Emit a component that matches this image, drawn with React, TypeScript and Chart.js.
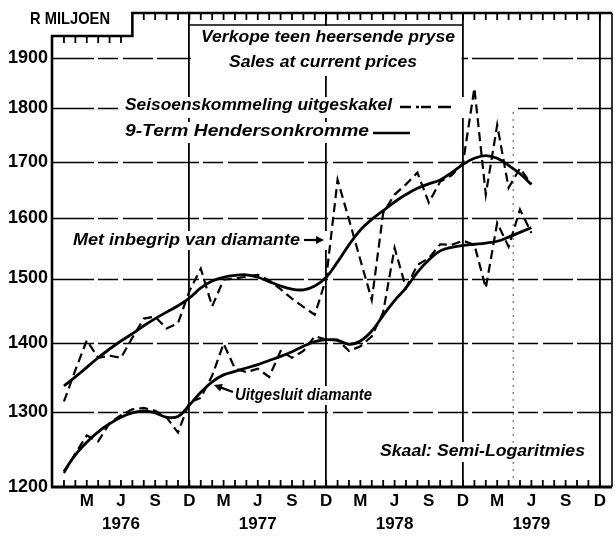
import React, { useEffect, useRef } from 'react';
import { Chart, registerables } from 'chart.js';

Chart.register(...registerables);

// Month index: 0 = Jan 1976 ... 41 = Jun 1979
const monthIndex: number[] = [
  0, 1, 2, 3, 4, 5, 6, 7, 8, 9, 10, 11,
  12, 13, 14, 15, 16, 17, 18, 19, 20, 21, 22, 23,
  24, 25, 26, 27, 28, 29, 30, 31, 32, 33, 34, 35,
  36, 37, 38, 39, 40, 41,
];

// Met inbegrip van diamante – seisoenskommeling uitgeskakel (R miljoen)
const withDiamondsAdjusted: number[] = [
  1315, 1360, 1404, 1378, 1381, 1378, 1408, 1437, 1440, 1422, 1430, 1480,
  1516, 1456, 1498, 1500, 1503, 1506, 1497, 1483, 1468, 1455, 1443, 1500,
  1667, 1598, 1530, 1466, 1609, 1641, 1659, 1680, 1627, 1664, 1675, 1697,
  1839, 1641, 1768, 1653, 1688, 1659,
];

// Met inbegrip van diamante – 9-term Hendersonkromme
const withDiamondsTrend: number[] = [
  1337, 1350, 1364, 1378, 1391, 1403, 1414, 1426, 1437, 1447, 1457, 1469,
  1485, 1496, 1502, 1505, 1506, 1502, 1495, 1488, 1483, 1482, 1488, 1502,
  1527, 1555, 1580, 1598, 1613, 1628, 1641, 1652, 1660, 1667, 1680, 1695,
  1706, 1711, 1706, 1693, 1678, 1659,
];

// Uitgesluit diamante – seisoenskommeling uitgeskakel
const exclDiamondsAdjusted: number[] = [
  1218, 1244, 1268, 1260, 1285, 1296, 1304, 1306, 1302, 1293, 1272, 1314,
  1320, 1352, 1399, 1362, 1357, 1362, 1350, 1388, 1378, 1388, 1410, 1405,
  1405, 1388, 1395, 1410, 1447, 1550, 1485, 1522, 1533, 1556, 1555, 1562,
  1555, 1485, 1592, 1552, 1615, 1575,
];

// Uitgesluit diamante – 9-term Hendersonkromme
const exclDiamondsTrend: number[] = [
  1220, 1242, 1259, 1273, 1284, 1293, 1299, 1302, 1299, 1293, 1294, 1310,
  1328, 1343, 1353, 1358, 1363, 1368, 1374, 1380, 1387, 1395, 1402, 1405,
  1404, 1398, 1403, 1418, 1442, 1465, 1485, 1510, 1530, 1545, 1551, 1554,
  1556, 1558, 1561, 1568, 1576, 1584,
];

const yTickValues: number[] = [1200, 1300, 1400, 1500, 1600, 1700, 1800, 1900];
const axisMonths: number[] = [
  0, 1, 2, 3, 4, 5, 6, 7, 8, 9, 10, 11,
  12, 13, 14, 15, 16, 17, 18, 19, 20, 21, 22, 23,
  24, 25, 26, 27, 28, 29, 30, 31, 32, 33, 34, 35,
  36, 37, 38, 39, 40, 41, 42, 43, 44, 45, 46, 47,
];
const quarterLetters: string[] = ['', '', 'M', '', '', 'J', '', '', 'S', '', '', 'D'];
const yearLabels: string[] = ['1976', '1977', '1978', '1979'];

const FONT = '"Liberation Sans", Arial, "DejaVu Sans", sans-serif';

function fitText(
  ctx: CanvasRenderingContext2D,
  text: string,
  x0: number,
  x1: number,
  cy: number,
  size: number,
  italic = false,
) {
  ctx.save();
  ctx.font = `${italic ? 'italic ' : ''}bold ${size}px ${FONT}`;
  const w = ctx.measureText(text).width;
  ctx.translate(x0, cy);
  ctx.scale((x1 - x0) / w, 1);
  ctx.textBaseline = 'middle';
  ctx.textAlign = 'left';
  ctx.fillStyle = '#000';
  ctx.fillText(text, 0, 0);
  ctx.restore();
}

function arrow(ctx: CanvasRenderingContext2D, x0: number, y0: number, x1: number, y1: number) {
  const ang = Math.atan2(y1 - y0, x1 - x0);
  ctx.save();
  ctx.strokeStyle = '#000';
  ctx.fillStyle = '#000';
  ctx.lineWidth = 2.2;
  ctx.beginPath();
  ctx.moveTo(x0, y0);
  ctx.lineTo(x1 - 4 * Math.cos(ang), y1 - 4 * Math.sin(ang));
  ctx.stroke();
  ctx.beginPath();
  ctx.moveTo(x1, y1);
  ctx.lineTo(x1 - 8 * Math.cos(ang) + 4 * Math.sin(ang), y1 - 8 * Math.sin(ang) - 4 * Math.cos(ang));
  ctx.lineTo(x1 - 8 * Math.cos(ang) - 4 * Math.sin(ang), y1 - 8 * Math.sin(ang) + 4 * Math.cos(ang));
  ctx.closePath();
  ctx.fill();
  ctx.restore();
}

const decorPlugin = {
  id: 'decor',
  beforeDatasetsDraw(chart: any) {
    const { ctx, chartArea: a, scales } = chart;
    const xs = scales.x;
    const ys = scales.y;
    const ctx2 = ctx as CanvasRenderingContext2D;
    ctx2.save();

    // horizontal grid lines (broken, as in the print)
    ctx2.strokeStyle = '#000';
    ctx2.lineWidth = 1.6;
    ctx2.setLineDash([42, 4, 20, 5, 30, 4]);
    ctx2.beginPath();
    yTickValues.forEach((v) => {
      if (v === 1200) return;
      const py = Math.round(ys.getPixelForValue(v)) + 0.5;
      ctx2.moveTo(a.left, py);
      ctx2.lineTo(a.right, py);
    });
    ctx2.stroke();
    ctx2.setLineDash([]);

    // white backgrounds behind the captions (interrupt the grid)
    ctx2.fillStyle = '#fff';
    const stepX = xs.getPixelForValue(6);
    const dec76 = xs.getPixelForValue(11);
    const dec78 = xs.getPixelForValue(35);
    ctx2.fillRect(dec76 + 1.5, 26, dec78 - dec76 - 3, 50);
    ctx2.fillRect(118, 97, 396, 21);
    ctx2.fillRect(118, 122, 296, 21);
    ctx2.fillRect(70, 231, 258, 19);
    ctx2.fillRect(230, 386, 146, 19);
    ctx2.fillRect(376, 442, 212, 20);

    // faint dotted vertical
    ctx2.strokeStyle = '#555';
    ctx2.lineWidth = 1;
    ctx2.setLineDash([2, 5]);
    const dx = xs.getPixelForValue(39.4);
    ctx2.beginPath();
    ctx2.moveTo(dx, 112);
    ctx2.lineTo(dx, a.bottom - 6);
    ctx2.stroke();
    ctx2.setLineDash([]);

    // title box top line
    ctx2.strokeStyle = '#000';
    ctx2.lineWidth = 1.6;
    ctx2.beginPath();
    ctx2.moveTo(dec76, 25);
    ctx2.lineTo(dec78, 25);
    ctx2.stroke();

    // frame
    const lowTop = a.top + 23;
    ctx2.lineWidth = 2.6;
    ctx2.beginPath();
    ctx2.moveTo(a.left, a.bottom);
    ctx2.lineTo(a.left, lowTop);
    ctx2.lineTo(stepX, lowTop);
    ctx2.lineTo(stepX, a.top);
    ctx2.lineTo(a.right, a.top);
    ctx2.stroke();
    ctx2.lineWidth = 1.6;
    ctx2.beginPath();
    ctx2.moveTo(a.right, a.top);
    ctx2.lineTo(a.right, a.bottom);
    ctx2.stroke();
    ctx2.lineWidth = 2.8;
    ctx2.beginPath();
    ctx2.moveTo(a.left - 1, a.bottom);
    ctx2.lineTo(a.right, a.bottom);
    ctx2.stroke();

    // inward month ticks along bottom and top
    ctx2.lineWidth = 1.8;
    ctx2.beginPath();
    axisMonths.forEach((m) => {
      const px = xs.getPixelForValue(m);
      ctx2.moveTo(px, a.bottom);
      ctx2.lineTo(px, a.bottom - 7);
      if (m < 6) {
        ctx2.moveTo(px, lowTop);
        ctx2.lineTo(px, lowTop + 7);
      } else if (m > 6) {
        ctx2.moveTo(px, a.top);
        ctx2.lineTo(px, a.top + 7);
      }
    });
    ctx2.stroke();
    ctx2.restore();
  },
  afterDatasetsDraw(chart: any) {
    const ctx = chart.ctx as CanvasRenderingContext2D;
    ctx.save();
    fitText(ctx, 'R MILJOEN', 30, 110, 19, 17);
    fitText(ctx, 'Verkope teen heersende pryse', 201, 455, 38, 16, true);
    fitText(ctx, 'Sales at current prices', 229, 417, 63, 16, true);
    fitText(ctx, 'Seisoenskommeling uitgeskakel', 125, 392, 106, 16, true);
    fitText(ctx, '9-Term Hendersonkromme', 125, 369, 132, 16, true);
    fitText(ctx, 'Met inbegrip van diamante', 73, 300, 241, 16, true);
    fitText(ctx, 'Uitgesluit diamante', 235, 372, 396, 16, true);
    fitText(ctx, 'Skaal: Semi-Logaritmies', 380, 585, 452, 16, true);

    // legend samples
    ctx.strokeStyle = '#000';
    ctx.lineWidth = 2.4;
    ctx.beginPath();
    ctx.moveTo(400, 107); ctx.lineTo(411, 107);
    ctx.moveTo(416, 107); ctx.lineTo(419, 107);
    ctx.moveTo(421, 107); ctx.lineTo(431, 107);
    ctx.moveTo(438, 107); ctx.lineTo(451, 107);
    ctx.moveTo(373, 133); ctx.lineTo(410, 133);
    ctx.stroke();

    arrow(ctx, 304, 240, 324, 240);
    arrow(ctx, 233, 392, 214, 385);
    ctx.restore();
  },
};

export default function App() {
  const canvasRef = useRef<HTMLCanvasElement | null>(null);

  useEffect(() => {
    if (!canvasRef.current) return;
    const pts = (vals: number[]) => vals.map((v, i) => ({ x: monthIndex[i], y: v }));
    const dashed = {
      borderColor: '#000',
      borderWidth: 2.2,
      borderDash: [9, 5],
      pointRadius: 0,
      tension: 0,
      fill: false,
    };
    const solid = {
      borderColor: '#000',
      borderWidth: 2.8,
      pointRadius: 0,
      tension: 0.4,
      fill: false,
    };
    const chart = new Chart(canvasRef.current, {
      type: 'line',
      data: {
        datasets: [
          { label: 'Met inbegrip van diamante – seisoenskommeling uitgeskakel', data: pts(withDiamondsAdjusted), ...dashed },
          { label: 'Met inbegrip van diamante – 9-Term Hendersonkromme', data: pts(withDiamondsTrend), ...solid },
          { label: 'Uitgesluit diamante – seisoenskommeling uitgeskakel', data: pts(exclDiamondsAdjusted), ...dashed },
          { label: 'Uitgesluit diamante – 9-Term Hendersonkromme', data: pts(exclDiamondsTrend), ...solid },
        ],
      },
      options: {
        animation: false,
        responsive: false,
        devicePixelRatio: 1,
        layout: { padding: { top: 13, right: 3, left: 0, bottom: 0 } },
        plugins: { legend: { display: false }, tooltip: { enabled: false } },
        scales: {
          x: {
            type: 'linear',
            min: -1.05,
            max: 48.07,
            afterBuildTicks: (scale: any) => {
              scale.ticks = axisMonths.map((m) => ({ value: m }));
            },
            afterFit: (scale: any) => {
              scale.height = 53;
              scale.paddingLeft = 0;
              scale.paddingRight = 0;
            },
            grid: {
              drawTicks: false,
              lineWidth: 1.8,
              color: (c: any) => (c.tick && c.tick.value % 12 === 11 ? '#000' : 'rgba(0,0,0,0)'),
            },
            border: { display: false },
            ticks: {
              autoSkip: false,
              maxRotation: 0,
              minRotation: 0,
              padding: 3,
              color: '#000',
              font: { family: FONT, size: 17, weight: 'bold', lineHeight: 1.35 },
              callback: (value: any) => {
                const m = Number(value);
                const q = m % 12;
                if (q === 5) return [quarterLetters[q], yearLabels[Math.floor(m / 12)]];
                return quarterLetters[q];
              },
            },
          },
          y: {
            type: 'logarithmic',
            min: 1200,
            max: 1993,
            afterBuildTicks: (scale: any) => {
              scale.ticks = yTickValues.map((v) => ({ value: v }));
            },
            afterFit: (scale: any) => {
              scale.width = 52;
              scale.paddingTop = 0;
              scale.paddingBottom = 0;
            },
            grid: { display: false, drawTicks: false },
            border: { display: false },
            ticks: {
              padding: 4,
              color: '#000',
              font: { family: FONT, size: 18, weight: 'bold' },
              callback: (value: any) => String(value),
            },
          },
        },
      },
      plugins: [decorPlugin],
    } as any);
    return () => chart.destroy();
  }, []);

  return (
    <div style={{ position: 'fixed', left: 0, top: 0, width: 615, height: 540, background: '#fff' }}>
      <canvas ref={canvasRef} width={615} height={540} style={{ display: 'block' }} />
    </div>
  );
}
